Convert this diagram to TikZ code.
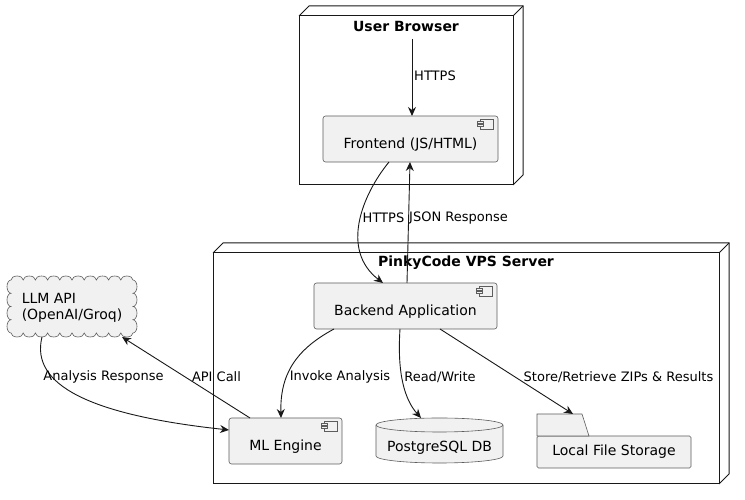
\documentclass[tikz,border=0pt]{standalone}
\usepackage{fontspec}
\setmainfont{DejaVu Sans}
\usetikzlibrary{arrows.meta}

\definecolor{umlfill}{HTML}{F1F1F1}
\definecolor{umlline}{HTML}{181818}

% small component icon in the upper right corner
\newcommand{\compicon}[1]{%
\draw[-,draw=umlline!70,line width=0.5pt,fill=umlfill] ([shift={(-18,-3)}]#1.north east) rectangle ([shift={(-5,-13)}]#1.north east);
\draw[-,draw=umlline!70,line width=0.5pt,fill=umlfill] ([shift={(-21,-5.5)}]#1.north east) rectangle ([shift={(-15,-7.5)}]#1.north east);
\draw[-,draw=umlline!70,line width=0.5pt,fill=umlfill] ([shift={(-21,-8.5)}]#1.north east) rectangle ([shift={(-15,-10.5)}]#1.north east);}
% 3d edge of a deployment node
\newcommand{\nodedepth}[1]{%
\draw[-,draw=umlline,line width=1pt] (#1.north west) -- ++(10,10) -- ([shift={(10,10)}]#1.north east) -- ([shift={(10,10)}]#1.south east) -- (#1.south east);
\draw[-,draw=umlline,line width=1pt] (#1.north east) -- ++(10,10);}

\begin{document}
\begin{tikzpicture}[x=1pt,y=1pt,->,>={Stealth[length=9pt,width=8pt,inset=3pt]}]
\tikzstyle{nodebox}=[-,draw=umlline,fill=white,line width=1pt,inner sep=0pt,outer sep=0pt]
\tikzstyle{comp}=[-,draw=umlline!70,fill=umlfill,line width=0.6pt,rounded corners=2.5pt,inner sep=0pt,outer sep=0pt,minimum height=46,font=\fontsize{14}{16}\selectfont,text height=23pt,text depth=3pt]
\tikzstyle{ttl}=[font=\bfseries\fontsize{14}{16}\selectfont,inner sep=0pt]
\tikzstyle{lbl}=[font=\fontsize{13}{15}\selectfont,inner sep=0pt]
\tikzstyle{flow}=[draw=umlline,line width=0.9pt]
\useasboundingbox (0,0) rectangle (745,500);

\node[nodebox, minimum width=214, minimum height=169]	(browser)	at (406,399.5)	{};
\nodedepth{browser}
\node[ttl]	(browsertitle)	at (406,473)	{User Browser};
\node[nodebox, minimum width=506, minimum height=231]	(vps)	at (466,131.5)	{};
\nodedepth{vps}
\node[ttl]	(vpstitle)	at (466,237)	{PinkyCode VPS Server};

\node[comp, minimum width=175]	(frontend)	at (410.5,361)	{Frontend (JS/HTML)};
\compicon{frontend}
\node[comp, minimum width=183]	(backend)	at (405.5,194)	{Backend Application};
\compicon{backend}
\node[comp, minimum width=113]	(ml)	at (285.5,59)	{ML Engine};
\compicon{ml}

% database
\filldraw[-,draw=umlline!70,fill=umlfill,line width=0.6pt] (376,75) -- (376,44) arc[start angle=180,end angle=360,x radius=63.5,y radius=7] -- (503,75) arc[start angle=0,end angle=180,x radius=63.5,y radius=7];
\draw[-,draw=umlline!70,line width=0.6pt] (376,75) arc[start angle=180,end angle=360,x radius=63.5,y radius=7];
\node[minimum width=127, minimum height=45, inner sep=0pt, outer sep=0pt]	(db)	at (439.5,59.5)	{};
\node[font=\fontsize{14}{16}\selectfont, inner sep=0pt]	(dbtext)	at (439.5,52)	{PostgreSQL DB};

% folder
\node[-,draw=umlline!70,fill=umlfill,line width=0.6pt,inner sep=0pt,outer sep=0pt,minimum width=154,minimum height=32,rounded corners=1.5pt,font=\fontsize{14}{16}\selectfont]	(storage)	at (614,48)	{Local File Storage};
\filldraw[-,draw=umlline!70,fill=umlfill,line width=0.6pt] (storage.north west) -- ++(0,22) -- ++(45,0) -- (589,64) -- cycle;

% cloud
\filldraw[-,draw=umlline!70,fill=umlfill,line width=0.6pt] (11,220)
  foreach \i in {1,...,10} { arc[start angle=180,end angle=0,x radius=6.1,y radius=4] }
  foreach \i in {1,...,4} { arc[start angle=90,end angle=-90,x radius=4,y radius=6.625] }
  foreach \i in {1,...,10} { arc[start angle=0,end angle=-180,x radius=6.1,y radius=4] }
  foreach \i in {1,...,4} { arc[start angle=270,end angle=90,x radius=4,y radius=6.625] } -- cycle;
\node[font=\fontsize{14}{16}\selectfont, align=left, inner sep=0pt, outer sep=0pt, minimum width=130, minimum height=58]	(llm)	at (72,192)	{LLM API\\(OpenAI/Groq)};

\coordinate	(browserin)	at (412,461);

\draw[flow]	(browserin)	--	([xshift=1.5]frontend.north);
\draw[flow]	([xshift=-21.5]frontend.south)	.. controls (362,305) and (340,250) ..	([xshift=-22.5]backend.north);
\draw[flow]	([xshift=1.5]backend.north)	--	([xshift=-0.5]frontend.south);
\draw[flow]	([xshift=-71.5]backend.south)	.. controls (295,150) and (280,125) ..	([xshift=-4.5]ml.north);
\draw[flow]	([xshift=-5.5]backend.south)	.. controls (397,125) and (405,100) ..	([xshift=-18.5]db.north);
\draw[flow]	([xshift=34.5]backend.south)	--	([shift={(-41,22)}]storage.north);
\draw[flow]	([xshift=-35.5]ml.north)	--	([xshift=50]llm.south);
\draw[flow]	([xshift=-30]llm.south)	.. controls (30,115) and (90,85) ..	([yshift=11]ml.west);

\node[lbl]	(lhttps)	at (435,424)	{HTTPS};
\node[lbl]	(lrequest)	at (383.5,282)	{HTTPS};
\node[lbl]	(lresponse)	at (458.5,282)	{JSON Response};
\node[lbl]	(linvoke)	at (340,123)	{Invoke Analysis};
\node[lbl]	(lreadwrite)	at (440,123)	{Read/Write};
\node[lbl]	(lstore)	at (618.5,123)	{Store/Retrieve ZIPs \& Results};
\node[lbl]	(lapicall)	at (216.5,123)	{API Call};
\node[lbl]	(lanalysis)	at (103.5,123)	{Analysis Response};
\end{tikzpicture}
\end{document}
